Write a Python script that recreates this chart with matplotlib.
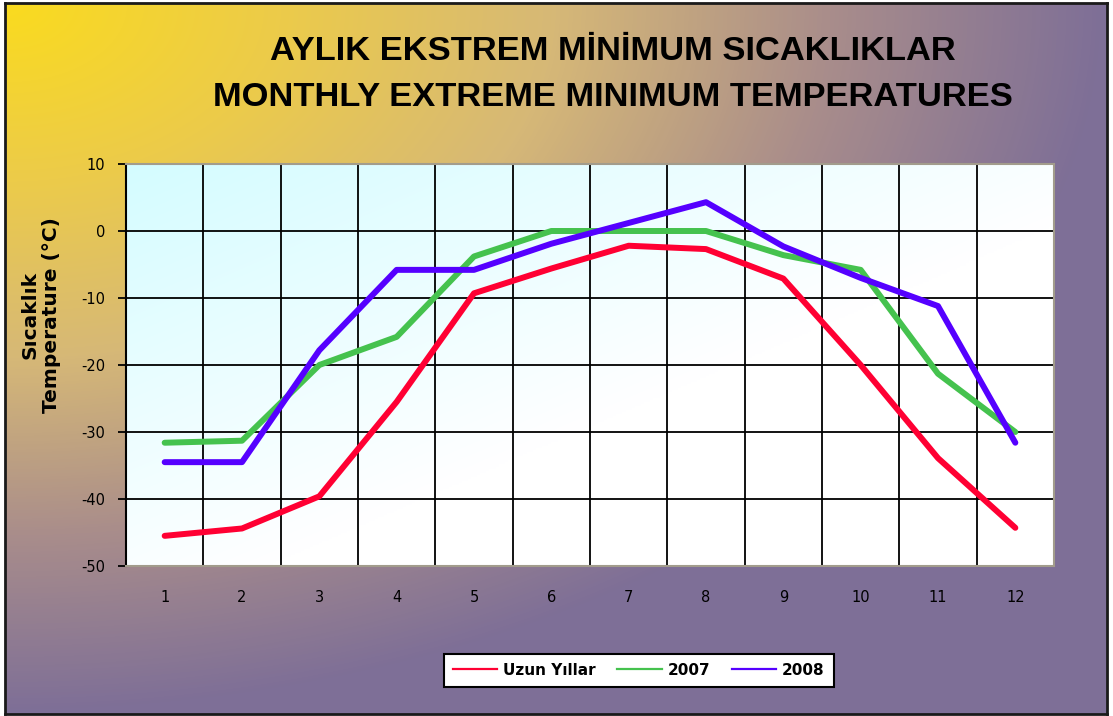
"""Monthly extreme minimum temperatures: long-term record vs 2007 and 2008."""
import numpy as np
import matplotlib; matplotlib.use("Agg")
import matplotlib.pyplot as plt
from matplotlib import font_manager
from matplotlib.colors import LinearSegmentedColormap, to_rgb
from matplotlib.lines import Line2D

plt.rcParams["axes.unicode_minus"] = False

# extreme minimum temperature per month (degC)
months = list(range(1, 13))
uzun_yillar = [-45.5, -44.4, -39.6, -25.5, -9.3, -5.6, -2.2, -2.7, -7.1, -20.0, -33.9, -44.3]
t2007 = [-31.6, -31.3, -20.0, -15.8, -3.8, 0.0, 0.0, 0.0, -3.6, -5.8, -21.3, -30.0]
t2008 = [-34.5, -34.5, -17.8, -5.8, -5.8, -1.9, 1.2, 4.3, -2.3, -7.0, -11.2, -31.6]
series_names = ["Uzun Yıllar", "2007", "2008"]
colors = ["#FF0033", "#45C24E", "#5500FF"]
yticks = list(range(-50, 11, 10))

W, H = 1113, 716
fig = plt.figure(figsize=(W / 100, H / 100), dpi=100)

# outer panel: yellow corner spreading to purple, black frame
bg = fig.add_axes([5 / W, 2 / H, 1102 / W, 711 / H], zorder=-10)
cmap_bg = LinearSegmentedColormap.from_list(
    "bg", ["#FADB1F", "#ECCB4A", "#D6B877", "#A98D8B", "#7E6F97"])
gx, gy = np.meshgrid(np.linspace(0, 1, 300), np.linspace(0, 1, 200))
bg.imshow(np.clip(np.hypot(gx, gy), 0, 1), cmap=cmap_bg, aspect="auto",
          extent=(0, 1, 1, 0), vmin=0, vmax=1, interpolation="bilinear")
bg.set_xticks([]); bg.set_yticks([])
for sp in bg.spines.values():
    sp.set_color("#1A1A1A"); sp.set_linewidth(2)

# font for the two title lines
try:
    font_manager.findfont("Liberation Sans Narrow", fallback_to_default=False)
    TFONT, TSIZE = "Liberation Sans Narrow", 29
except ValueError:
    TFONT, TSIZE = "Liberation Sans", 24.8

fig.text(0.551, 0.928, "AYLIK EKSTREM MİNİMUM SICAKLIKLAR", ha="center", va="center",
         fontsize=TSIZE, fontweight="bold", family=TFONT, color="black")
fig.text(0.551, 0.864, "MONTHLY EXTREME MINIMUM TEMPERATURES", ha="center", va="center",
         fontsize=TSIZE, fontweight="bold", family=TFONT, color="black")

ax = fig.add_axes([126 / W, (H - 566) / H, (1054 - 126) / W, (566 - 164) / H])
ax.set_xlim(0.5, 12.5)
ax.set_ylim(-50, 10)

# plot area: pale cyan fading to white toward the lower right
c0, c1 = np.array(to_rgb("#D4FCFF")), np.array([1.0, 1.0, 1.0])
px, py = np.meshgrid(np.linspace(0, 1, 300), np.linspace(0, 1, 200))
w = np.clip(1 - (px + py) / 1.15, 0, 1)[..., None]
ax.imshow(w * c0 + (1 - w) * c1, extent=(0.5, 12.5, -50, 10), origin="upper",
          aspect="auto", zorder=0, interpolation="bilinear")

ax.set_axisbelow(True)
ax.set_yticks(yticks)
ax.set_xticks(months)
ax.set_xticks([m + 0.5 for m in months[:-1]], minor=True)
ax.grid(axis="y", which="major", color="black", lw=1.3)
ax.grid(axis="x", which="minor", color="black", lw=1.3)
ax.tick_params(axis="x", which="both", length=0, pad=17, labelsize=10.5)
ax.tick_params(axis="y", length=6, width=1.3, direction="out", pad=9, labelsize=10.5)

for vals, c in zip([uzun_yillar, t2007, t2008], colors):
    ax.plot(months, vals, color=c, lw=4.3, solid_joinstyle="round",
            solid_capstyle="round", zorder=3)

ax.spines["left"].set_color("black")
ax.spines["left"].set_linewidth(1.5)
for sp in ("top", "right", "bottom"):
    ax.spines[sp].set_color("#A29C8C")
    ax.spines[sp].set_linewidth(1.5)

fig.text(41 / W, 0.56, "Sıcaklık\nTemperature (°C)", rotation=90, ha="center",
         va="center", multialignment="center", fontsize=14.5, fontweight="bold",
         linespacing=1.2)

handles = [Line2D([], [], color=c, lw=1.6) for c in colors]
leg = fig.legend(handles, series_names, loc="center", bbox_to_anchor=(0.574, 0.064),
                 ncol=3, frameon=True, fancybox=False,
                 handlelength=2.9, handletextpad=0.4, columnspacing=1.4,
                 borderpad=0.6, prop={"weight": "bold", "size": 11})
leg.get_frame().set_edgecolor("black")
leg.get_frame().set_linewidth(1.5)
leg.get_frame().set_facecolor("white")
leg.get_frame().set_alpha(1)

fig.savefig("out.png", dpi=100)
